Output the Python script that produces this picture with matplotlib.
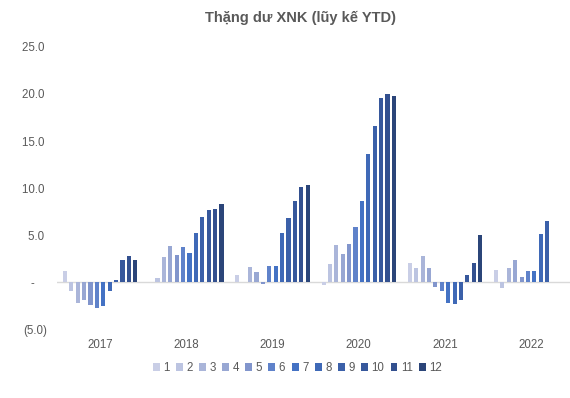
import matplotlib.pyplot as plt
import numpy as np

plt.rcParams['font.family'] = ['Liberation Sans', 'DejaVu Sans']

# === data: thặng dư XNK lũy kế YTD (tỷ USD) ===
years = ['2017', '2018', '2019', '2020', '2021', '2022']
months = [str(m) for m in range(1, 13)]

y2017 = [1.2, -0.9, -2.2, -1.95, -2.45, -2.7, -2.5, -0.9, 0.2, 2.3, 2.75, 2.3]
y2018 = [0.05, 0.45, 2.7, 3.85, 2.9, 3.7, 3.1, 5.25, 6.9, 7.65, 7.8, 8.35]
y2019 = [0.75, 0.0, 1.6, 1.05, -0.15, 1.7, 1.7, 5.2, 6.8, 8.65, 10.1, 10.35]
y2020 = [-0.3, 1.95, 3.9, 3.0, 4.0, 5.85, 8.6, 13.65, 16.6, 19.55, 20.05, 19.8]
y2021 = [2.05, 1.55, 2.75, 1.5, -0.5, -0.95, -2.25, -2.35, -1.95, 0.75, 2.05, 5.0]
y2022 = [1.3, -0.6, 1.45, 2.3, 0.55, 1.2, 1.2, 5.1, 6.45, np.nan, np.nan, np.nan]

values = np.array([y2017, y2018, y2019, y2020, y2021, y2022])

yticks = [-5, 0, 5, 10, 15, 20, 25]
ytick_labels = ['(5.0)', '-    ', '5.0 ', '10.0 ', '15.0 ', '20.0 ', '25.0 ']

colors = ['#c9cee6', '#bcc4e1', '#aab5d9', '#98a7d3', '#8195cc', '#5f82ca',
          '#4472c4', '#3f69b7', '#3b60a9', '#37589c', '#33508f', '#2b4579']

fig = plt.figure(figsize=(5.70, 3.98), dpi=100)
ax = fig.add_axes([0.1, 0.173, 0.9, 0.709])

x = np.arange(len(years))
step = 0.0742
width = 0.048

for i, m in enumerate(months):
    ax.bar(x + (i - 5.5) * step, values[:, i], width=width,
           color=colors[i], label=m, zorder=3)

ax.axhline(0, color='#d9d9d9', linewidth=1.0, zorder=2)

ax.set_ylim(-5, 25)
ax.set_xlim(-0.5, 5.45)
ax.set_yticks(yticks)
ax.set_yticklabels(ytick_labels)
ax.set_xticks(x)
ax.set_xticklabels(years)
ax.tick_params(axis='both', length=0, labelsize=8.3, colors='#595959')
ax.tick_params(axis='x', pad=7)
ax.tick_params(axis='y', pad=7)
for s in ax.spines.values():
    s.set_visible(False)

fig.text(0.527, 0.955, 'Thặng dư XNK (lũy kế YTD)', ha='center', va='center',
         fontsize=10.5, fontweight='bold', color='#595959')

fig.legend(loc='center', bbox_to_anchor=(0.522, 0.075), ncol=12, frameon=False,
           fontsize=8.3, handlelength=0.6, handleheight=0.6, handletextpad=0.3,
           columnspacing=0.55, labelcolor='#595959')

fig.savefig('out.png', dpi=100)
